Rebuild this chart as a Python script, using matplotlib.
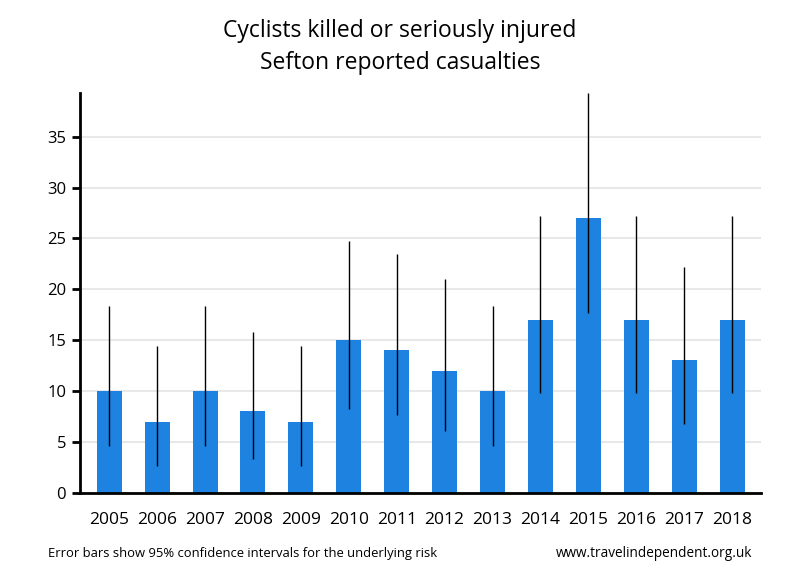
import matplotlib.pyplot as plt

# Sefton cyclist KSI casualties with 95% CI
years = ["2005", "2006", "2007", "2008", "2009", "2010", "2011",
         "2012", "2013", "2014", "2015", "2016", "2017", "2018"]
casualties = [10, 7, 10, 8, 7, 15, 14, 12, 10, 17, 27, 17, 13, 17]
ci_low = [4.6, 2.6, 4.6, 3.3, 2.6, 8.2, 7.6, 6.1, 4.6, 9.8, 17.7, 9.8, 6.8, 9.8]
ci_high = [18.4, 14.4, 18.4, 15.8, 14.4, 24.7, 23.5, 21.0, 18.4, 27.2, 39.3, 27.2, 22.2, 27.2]

plt.rcParams["font.family"] = ["Open Sans", "DejaVu Sans"]

fig = plt.figure(figsize=(8, 5.8), dpi=100)
ax = fig.add_axes([0.1, 0.1505, 0.851, 0.6892])

x = list(range(len(years)))
err_lo = [v - l for v, l in zip(casualties, ci_low)]
err_hi = [h - v for v, h in zip(casualties, ci_high)]

ax.bar(x, casualties, width=0.52, color="#1d82e0", zorder=2)
ax.errorbar(x, casualties, yerr=[err_lo, err_hi], fmt="none",
            ecolor="black", elinewidth=1, capsize=0, zorder=3)

ax.set_xlim(-0.61, 13.6)
ax.set_ylim(0, 39.3)
ax.set_yticks(range(0, 40, 5))
ax.set_xticks(x)
ax.set_xticklabels(years)

ax.yaxis.grid(True, color="#e8e8e8", linewidth=1.5, zorder=0)
ax.set_axisbelow(True)

for s in ["top", "right"]:
    ax.spines[s].set_visible(False)
ax.spines["left"].set_linewidth(2)
ax.spines["bottom"].set_linewidth(2)

ax.tick_params(axis="y", length=6, width=2, labelsize=12, pad=4)
ax.tick_params(axis="x", length=0, labelsize=12.5, pad=14)

fig.text(0.5, 0.946, "Cyclists killed or seriously injured", ha="center",
         va="center", fontsize=16.5)
fig.text(0.5, 0.891, "Sefton reported casualties", ha="center",
         va="center", fontsize=16.5)

fig.text(0.06, 0.046, "Error bars show 95% confidence intervals for the underlying risk",
         ha="left", va="center", fontsize=9.4)
fig.text(0.941, 0.046, "www.travelindependent.org.uk",
         ha="right", va="center", fontsize=9.8)

fig.savefig("out.png", dpi=100)
